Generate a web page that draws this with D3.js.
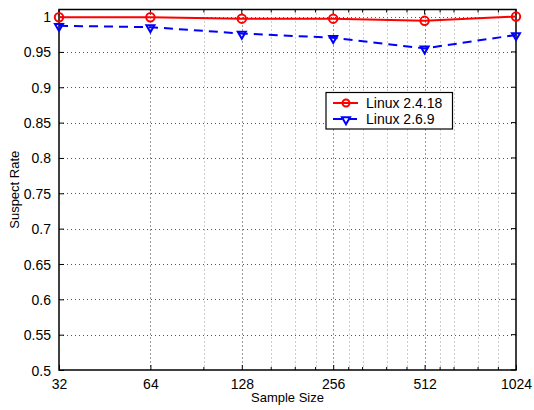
<!DOCTYPE html>
<html>
<head>
<meta charset="utf-8">
<script src="https://cdn.jsdelivr.net/npm/d3@7"></script>
<style>
  body { margin: 0; background: #fff; }
  svg text { font-family: "Liberation Sans", Arial, sans-serif; fill: #000; }
</style>
</head>
<body>
<svg id="chart" width="534" height="410"></svg>
<script>
// chart data
const sampleSizes = [32, 64, 128, 256, 512, 1024];
const linux2418 = [0.999, 0.999, 0.997, 0.997, 0.994, 1.0];
const linux269 = [0.987, 0.985, 0.976, 0.970, 0.955, 0.974];
const yTicks = [0.5, 0.55, 0.6, 0.65, 0.7, 0.75, 0.8, 0.85, 0.9, 0.95, 1];
const yTickLabels = ['0.5', '0.55', '0.6', '0.65', '0.7', '0.75', '0.8', '0.85', '0.9', '0.95', '1'];
const xMinor = [96, 160, 192, 224, 288, 320, 384, 448, 576, 640, 768, 896];
const seriesNames = ['Linux 2.4.18', 'Linux 2.6.9'];

const svg = d3.select('#chart');
const m = { left: 59, top: 9.5, right: 516, bottom: 370 };

const x = d3.scaleLog().base(2).domain([32, 1024]).range([m.left, m.right]);
const y = d3.scaleLinear().domain([0.5, 1.01]).range([m.bottom, m.top]);

// grid
const grid = svg.append('g');
grid.selectAll('.hg').data(yTicks.slice(1)).enter().append('line')
  .attr('x1', m.left).attr('x2', m.right)
  .attr('y1', d => Math.round(y(d)) + 0.5).attr('y2', d => Math.round(y(d)) + 0.5)
  .attr('stroke', '#555').attr('stroke-width', 1).attr('stroke-dasharray', '1,3');
grid.selectAll('.vg').data(sampleSizes.slice(1, -1)).enter().append('line')
  .attr('x1', d => Math.round(x(d)) + 0.5).attr('x2', d => Math.round(x(d)) + 0.5)
  .attr('y1', m.top).attr('y2', m.bottom)
  .attr('stroke', '#333').attr('stroke-width', 1).attr('stroke-dasharray', '1,3');
grid.selectAll('.vm').data(xMinor).enter().append('line')
  .attr('x1', d => Math.round(x(d)) + 0.5).attr('x2', d => Math.round(x(d)) + 0.5)
  .attr('y1', m.top).attr('y2', m.bottom)
  .attr('stroke', '#999').attr('stroke-width', 1).attr('stroke-dasharray', '1,3');

// axes (ticks inward)
const xAxis = d3.axisBottom(x).tickValues(sampleSizes).tickFormat(d3.format('d')).tickSizeInner(-5).tickSizeOuter(0).tickPadding(9);
const gx = svg.append('g').attr('transform', `translate(0,${m.bottom})`).call(xAxis);
const yAxis = d3.axisLeft(y).tickValues(yTicks).tickFormat((d, i) => yTickLabels[i]).tickSizeInner(-5).tickSizeOuter(0).tickPadding(8);
const gy = svg.append('g').attr('transform', `translate(${m.left},0)`).call(yAxis);
[gx, gy].forEach(g => {
  g.select('.domain').remove();
  g.selectAll('text').attr('font-size', 14).style('font-family', '"Liberation Sans", Arial, sans-serif');
  g.selectAll('line').attr('stroke', '#000');
});
gy.selectAll('text').attr('dy', '0.36em');

// top/right ticks
svg.append('g').selectAll('line').data(sampleSizes).enter().append('line')
  .attr('x1', d => x(d)).attr('x2', d => x(d)).attr('y1', m.top).attr('y2', m.top + 5).attr('stroke', '#000');
svg.append('g').selectAll('line').data(xMinor).enter().append('line')
  .attr('x1', d => x(d)).attr('x2', d => x(d)).attr('y1', m.top).attr('y2', m.top + 3).attr('stroke', '#000');
svg.append('g').selectAll('line').data(xMinor).enter().append('line')
  .attr('x1', d => x(d)).attr('x2', d => x(d)).attr('y1', m.bottom).attr('y2', m.bottom - 3).attr('stroke', '#000');
svg.append('g').selectAll('line').data(yTicks).enter().append('line')
  .attr('x1', m.right).attr('x2', m.right - 5).attr('y1', d => y(d)).attr('y2', d => y(d)).attr('stroke', '#000');

// frame
svg.append('rect').attr('x', m.left).attr('y', m.top)
  .attr('width', m.right - m.left).attr('height', m.bottom - m.top)
  .attr('fill', 'none').attr('stroke', '#000').attr('stroke-width', 1.5);

// series
const line = d3.line().x(d => x(d[0])).y(d => y(d[1]));
const redPts = sampleSizes.map((s, i) => [s, linux2418[i]]);
const bluePts = sampleSizes.map((s, i) => [s, linux269[i]]);

svg.append('path').datum(bluePts).attr('d', line)
  .attr('fill', 'none').attr('stroke', '#0000ff').attr('stroke-width', 2).attr('stroke-dasharray', '9,6');
svg.append('path').datum(redPts).attr('d', line)
  .attr('fill', 'none').attr('stroke', '#ff0000').attr('stroke-width', 2);

const tri = d3.symbol().type(d3.symbolTriangle).size(28);
svg.append('g').selectAll('path').data(bluePts).enter().append('path')
  .attr('d', tri)
  .attr('transform', d => `translate(${x(d[0])},${y(d[1]) + 0.5}) rotate(180)`)
  .attr('fill', 'none').attr('stroke', '#0000ff').attr('stroke-width', 2);
svg.append('g').selectAll('circle').data(redPts).enter().append('circle')
  .attr('cx', d => x(d[0])).attr('cy', d => y(d[1])).attr('r', 4.2)
  .attr('fill', 'none').attr('stroke', '#ff0000').attr('stroke-width', 2);

// legend
const lg = svg.append('g').attr('transform', 'translate(326,92.5)');
lg.append('rect').attr('width', 126.5).attr('height', 36.5)
  .attr('fill', '#fff').attr('stroke', '#000').attr('stroke-width', 1.2);
const rows = [
  { name: seriesNames[0], color: '#ff0000', dash: null, y: 10.5 },
  { name: seriesNames[1], color: '#0000ff', dash: '9,6', y: 26.5 }
];
rows.forEach((r, i) => {
  lg.append('line').attr('x1', 7).attr('x2', 32).attr('y1', r.y).attr('y2', r.y)
    .attr('stroke', r.color).attr('stroke-width', 2).attr('stroke-dasharray', r.dash);
  if (i === 0) {
    lg.append('circle').attr('cx', 20).attr('cy', r.y).attr('r', 3.5)
      .attr('fill', 'none').attr('stroke', r.color).attr('stroke-width', 2);
  } else {
    lg.append('path').attr('d', tri).attr('transform', `translate(20,${r.y + 0.5}) rotate(180)`)
      .attr('fill', 'none').attr('stroke', r.color).attr('stroke-width', 2);
  }
  lg.append('text').attr('x', 40).attr('y', r.y).attr('dy', '0.36em')
    .attr('font-size', 14).text(r.name);
});

// axis titles
svg.append('text').attr('x', (m.left + m.right) / 2).attr('y', 402)
  .attr('text-anchor', 'middle').attr('font-size', 13).text('Sample Size');
svg.append('text').attr('transform', `translate(19,${(m.top + m.bottom) / 2}) rotate(-90)`)
  .attr('text-anchor', 'middle').attr('font-size', 13).text('Suspect Rate');
</script>
</body>
</html>
